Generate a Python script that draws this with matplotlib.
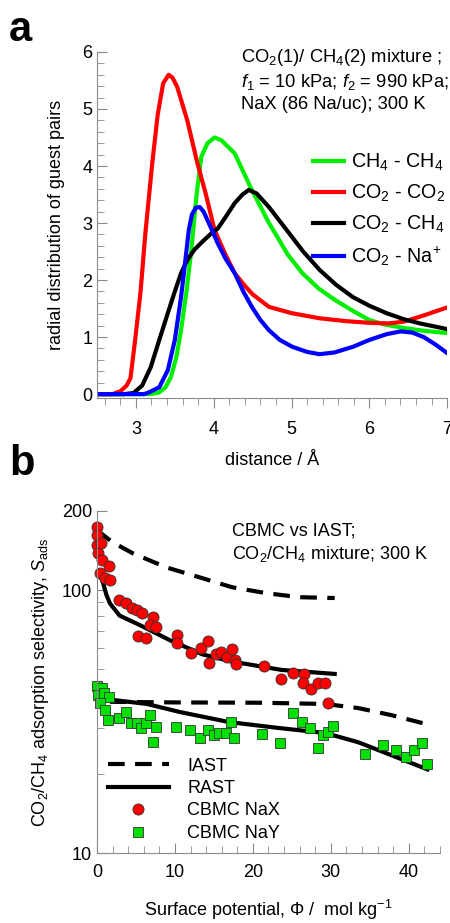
import numpy as np
import matplotlib
matplotlib.use('Agg')
import matplotlib.pyplot as plt
from matplotlib.ticker import MultipleLocator, FixedLocator, NullFormatter, FixedFormatter

plt.rcParams['font.family'] = ['Liberation Sans', 'DejaVu Sans']
plt.rcParams['mathtext.fontset'] = 'custom'
plt.rcParams['mathtext.rm'] = 'Liberation Sans'
plt.rcParams['mathtext.it'] = 'Liberation Sans:italic'

# panel a : radial distribution functions
r_ch4 = [2.5, 3.0, 3.19, 3.3, 3.38, 3.45, 3.52, 3.58, 3.65, 3.71, 3.78, 3.84, 3.92, 4.01, 4.1, 4.27, 4.49, 4.71, 4.79, 4.95, 5.14, 5.35, 5.56, 5.8, 6.0, 6.2, 6.44, 6.7, 7.0]
g_ch4 = [0, 0, 0, 0.03, 0.12, 0.3, 0.65, 1.12, 1.8, 2.5, 3.5, 4.16, 4.4, 4.5, 4.45, 4.22, 3.58, 3.0, 2.82, 2.45, 2.12, 1.85, 1.65, 1.45, 1.3, 1.22, 1.16, 1.11, 1.07]

r_co2 = [2.5, 2.7, 2.8, 2.88, 2.93, 2.99, 3.06, 3.12, 3.21, 3.28, 3.35, 3.42, 3.47, 3.53, 3.66, 3.79, 3.9, 4.01, 4.15, 4.27, 4.4, 4.5, 4.71, 5.0, 5.36, 5.7, 6.0, 6.25, 6.44, 6.7, 7.0]
g_co2 = [0, 0, 0.05, 0.15, 0.28, 0.95, 1.8, 2.8, 4.05, 4.9, 5.45, 5.6, 5.55, 5.39, 4.8, 4.05, 3.5, 2.88, 2.45, 2.12, 1.9, 1.75, 1.53, 1.42, 1.33, 1.28, 1.25, 1.24, 1.27, 1.38, 1.52]

r_mix = [2.5, 2.85, 2.97, 3.08, 3.19, 3.3, 3.41, 3.5, 3.58, 3.66, 3.75, 3.86, 3.97, 4.05, 4.15, 4.27, 4.37, 4.45, 4.55, 4.71, 4.97, 5.15, 5.36, 5.57, 5.79, 6.0, 6.22, 6.45, 6.65, 7.0]
g_mix = [0, 0, 0.02, 0.15, 0.47, 0.95, 1.42, 1.8, 2.12, 2.35, 2.53, 2.68, 2.82, 2.9, 3.1, 3.35, 3.5, 3.58, 3.52, 3.28, 2.82, 2.5, 2.18, 1.92, 1.70, 1.55, 1.42, 1.31, 1.24, 1.14]

r_na = [2.5, 3.1, 3.15, 3.3, 3.41, 3.5, 3.58, 3.64, 3.68, 3.72, 3.77, 3.82, 3.87, 3.92, 3.97, 4.05, 4.15, 4.27, 4.38, 4.49, 4.6, 4.71, 4.85, 5.01, 5.2, 5.36, 5.55, 5.79, 6.0, 6.22, 6.4, 6.55, 6.7, 6.85, 7.0]
g_na = [0, 0, 0.02, 0.12, 0.42, 0.95, 1.7, 2.4, 2.88, 3.15, 3.27, 3.28, 3.2, 3.05, 2.9, 2.65, 2.38, 2.12, 1.8, 1.53, 1.3, 1.12, 0.95, 0.83, 0.74, 0.70, 0.73, 0.83, 0.95, 1.05, 1.1, 1.08, 1.0, 0.87, 0.72]

# panel b : selectivities
phi_iast_x = [0, 2.0, 4.6, 8.9, 13.1, 17.3, 21.6, 25.9, 30.5]
s_iast_x = [169, 152, 138, 122, 112, 102.6, 97.5, 94, 93.3]
phi_rast_x = [0.4, 0.8, 1.2, 1.66, 2.9, 5.5, 9.3, 13.5, 17.3, 23.7, 30.5]
s_rast_x = [114, 106, 96, 89, 80, 73.6, 64.6, 57, 53.5, 49.7, 48]

phi_iast_y = [1.66, 10, 20.8, 29.3, 33.5, 37.7, 42.7]
s_iast_y = [37.6, 37.4, 37.3, 36.9, 35.6, 33.5, 30.7]
phi_rast_y = [0.17, 6.4, 10.6, 16.9, 23.3, 29.3, 33.5, 37.7, 42.4]
s_rast_y = [38.8, 36.9, 34.4, 31.5, 29.9, 28.6, 26.4, 23.6, 20.8]

phi_nax = [0, 0.04, 0, 0.47, 0.17, 0.6, 0.38, 1.57, 1.02, 1.66, 2.84, 3.78, 4.55, 5.13, 5.82,
           7.17, 6.75, 7.6, 5.26, 6.33, 10.28, 10.28, 12.06, 13.34, 14.3, 14.4, 15.25, 15.9,
           16.65, 17.29, 17.7, 17.8, 21.4, 23.66, 25.13, 26.5, 26.4, 27.4, 28.3, 29.2, 29.7]
s_nax = [174, 162, 148, 151, 138, 130, 116, 123, 111, 109, 92, 89.6, 85.2, 83.9, 82,
         79.1, 73.6, 72.5, 67, 65.5, 67.4, 63, 57.8, 60, 64.1, 52.6, 57.4, 58.2,
         55.7, 59.6, 54.2, 52.2, 51.5, 46.1, 48.4, 47.9, 44.4, 42, 44.2, 44.4, 37.2]

phi_nay = [0.04, 0.68, 0.17, 0.89, 1.57, 0.38, 1.02, 1.44, 2.84, 3.78, 4.42, 5.13, 5.69, 6.24,
           6.75, 7.52, 7.17, 10.15, 11.94, 13.2, 14.18, 15.03, 15.67, 16.52, 17.16, 17.58,
           21.2, 23.5, 25.1, 26.3, 27.35, 28.3, 29.0, 29.7, 30.3, 34.4, 36.7, 38.4, 39.7,
           40.7, 41.7, 42.4]
s_nay = [43.2, 42.3, 39.9, 40.7, 39.1, 37.1, 35, 32.2, 32.7, 34.4, 31.1, 31.1, 29.9, 31.1,
         33.6, 30.1, 26.4, 30.1, 29.5, 27.5, 29.4, 28.1, 28.5, 28.5, 31.4, 27.4,
         28.3, 26.1, 34.1, 31.5, 29.8, 25, 28.1, 28.9, 30.5, 23.9, 25.8, 24.6, 23.1,
         24.6, 26.1, 21.9]

fig = plt.figure(figsize=(4.5, 9.23), dpi=100)
gray = '#8a8a8a'

# ---- panel a
ax1 = fig.add_axes([0.2156, 0.5693, 0.778, 0.3744])
ax1.plot(r_ch4, g_ch4, color='#00ee00', lw=3, label='CH$_4$ - CH$_4$')
ax1.plot(r_co2, g_co2, color='#ff0000', lw=3, label='CO$_2$ - CO$_2$')
ax1.plot(r_mix, g_mix, color='black', lw=3, label='CO$_2$ - CH$_4$')
ax1.plot(r_na, g_na, color='#0000ff', lw=3, label='CO$_2$ - Na$^{+}$')
ax1.set_xlim(2.5, 7)
ax1.set_ylim(-0.06, 6)
ax1.xaxis.set_major_locator(FixedLocator([3, 4, 5, 6, 7]))
ax1.xaxis.set_minor_locator(MultipleLocator(0.2))
ax1.yaxis.set_major_locator(MultipleLocator(1))
ax1.yaxis.set_minor_locator(MultipleLocator(0.2))
ax1.tick_params(axis='x', which='both', direction='out', color=gray, labelsize=13, pad=10)
ax1.tick_params(axis='y', which='both', direction='in', color=gray, labelsize=13)
ax1.tick_params(which='major', length=7)
ax1.tick_params(which='minor', length=5)
for s in ['top', 'right']:
    ax1.spines[s].set_visible(False)
for s in ['left', 'bottom']:
    ax1.spines[s].set_color(gray)
ax1.set_xlabel('distance / Å', fontsize=13, labelpad=10)
ax1.set_ylabel('radial distribution of guest pairs', fontsize=13, labelpad=12)
ax1.text(0.41, 1.015, 'CO$_2$(1)/ CH$_4$(2) mixture ;\n$f_1$ = 10 kPa; $f_2$ = 990 kPa;\nNaX (86 Na/uc); 300 K',
         transform=ax1.transAxes, fontsize=13.2, va='top', ha='left', linespacing=1.3)
ax1.legend(loc='upper left', bbox_to_anchor=(0.595, 0.735), frameon=False, fontsize=14.2,
           handlelength=1.55, handletextpad=0.35, labelspacing=0.5, borderaxespad=0)
fig.text(0.02, 0.968, 'a', fontsize=30, fontweight='bold', va='center')

# ---- panel b
ax2 = fig.add_axes([0.2156, 0.0758, 0.762, 0.3706])
ax2.plot(phi_iast_x, s_iast_x, color='black', lw=3, ls=(0, (4, 2.5)), label='IAST')
ax2.plot(phi_rast_x, s_rast_x, color='black', lw=3, label='RAST')
ax2.plot(phi_iast_y, s_iast_y, color='black', lw=3, ls=(0, (4, 2.5)))
ax2.plot(phi_rast_y, s_rast_y, color='black', lw=3)
ax2.plot(phi_nax, s_nax, 'o', color='#ff0000', mec='#333333', mew=0.6, ms=8, label='CBMC NaX', clip_on=False)
ax2.plot(phi_nay, s_nay, 's', color='#00e000', mec='#333333', mew=0.6, ms=7.5, label='CBMC NaY', clip_on=False)
ax2.set_yscale('log')
ax2.set_xlim(0, 44)
ax2.set_ylim(10, 200)
ax2.xaxis.set_major_locator(MultipleLocator(10))
ax2.xaxis.set_minor_locator(MultipleLocator(2))
ax2.yaxis.set_major_locator(FixedLocator([10, 100, 200]))
ax2.yaxis.set_minor_locator(FixedLocator([20, 30, 40, 50, 60, 70, 80, 90]))
ax2.yaxis.set_major_formatter(FixedFormatter(['10', '100', '200']))
ax2.yaxis.set_minor_formatter(NullFormatter())
ax2.tick_params(which='both', direction='in', color=gray, labelsize=13)
ax2.tick_params(which='major', length=7)
ax2.tick_params(which='minor', length=5)
ax2.tick_params(axis='x', pad=8)
for s in ['top', 'right']:
    ax2.spines[s].set_visible(False)
for s in ['left', 'bottom']:
    ax2.spines[s].set_color(gray)
ax2.set_xlabel('Surface potential, Φ /  mol kg$^{-1}$', fontsize=13, labelpad=12)
ax2.set_ylabel('CO$_2$/CH$_4$ adsorption selectivity, $S_{\\rm ads}$', fontsize=13, labelpad=8)
ax2.text(0.395, 0.965, 'CBMC vs IAST;\nCO$_2$/CH$_4$ mixture; 300 K', transform=ax2.transAxes,
         fontsize=13, va='top', ha='left', linespacing=1.25)
ax2.legend(loc='upper left', bbox_to_anchor=(0.01, 0.3), frameon=False, fontsize=13,
           handlelength=3.4, handletextpad=1.0, labelspacing=0.3, borderaxespad=0)
fig.text(0.02, 0.497, 'b', fontsize=30, fontweight='bold', va='center')

fig.savefig('out.png', dpi=100)
